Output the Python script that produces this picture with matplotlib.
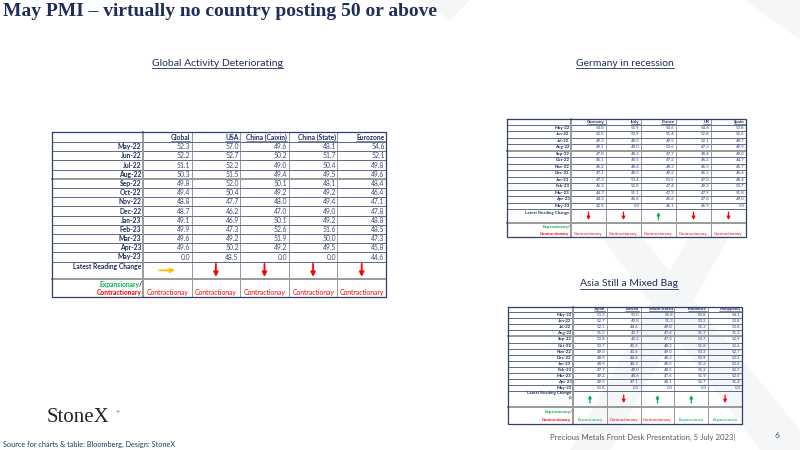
import matplotlib.pyplot as plt
from matplotlib.patches import Polygon

# ---------------------------------------------------
# Data
# ---------------------------------------------------

months = ["May-22", "Jun-22", "Jul-22", "Aug-22", "Sep-22", "Oct-22", "Nov-22",
          "Dec-22", "Jan-23", "Feb-23", "Mar-23", "Apr-23", "May-23"]

global_cols = ["Global", "USA", "China (Caixin)", "China (State)", "Eurozone"]
pmi_global = [52.3, 52.2, 51.1, 50.3, 49.8, 49.4, 48.8, 48.7, 49.1, 49.9, 49.6, 49.6, 0.0]
pmi_usa = [57.0, 52.7, 52.2, 51.5, 52.0, 50.4, 47.7, 46.2, 46.9, 47.3, 49.2, 50.2, 48.5]
pmi_caixin = [49.6, 50.2, 49.0, 49.4, 50.1, 49.2, 48.0, 47.0, 50.1, 52.6, 51.9, 49.2, 0.0]
pmi_china_state = [48.1, 51.7, 50.4, 49.5, 48.1, 49.2, 49.4, 49.0, 49.2, 51.6, 50.0, 49.5, 0.0]
pmi_eurozone = [54.6, 52.1, 49.8, 49.6, 48.4, 46.4, 47.1, 47.8, 48.8, 48.5, 47.3, 45.8, 44.6]
global_arrows = ["right", "down", "down", "down", "down"]
global_status = ["Contractionay", "Contractionay", "Contractionay", "Contractionay", "Contractionary"]

europe_cols = ["Germany", "Italy", "France", "UK", "Spain"]
pmi_germany = [54.8, 52.0, 49.3, 49.1, 47.8, 45.1, 46.2, 47.1, 47.3, 46.3, 44.7, 44.5, 42.9]
pmi_italy = [51.9, 50.9, 48.5, 48.0, 48.3, 46.5, 48.4, 48.5, 50.4, 52.0, 51.1, 46.8, 0.0]
pmi_france = [54.6, 51.4, 49.5, 50.6, 47.7, 47.2, 48.3, 49.2, 50.5, 47.4, 47.3, 45.6, 46.1]
pmi_uk = [54.6, 52.8, 52.1, 47.3, 48.4, 46.2, 46.5, 45.3, 47.0, 49.3, 47.9, 47.8, 46.9]
pmi_spain = [53.8, 52.6, 48.7, 49.9, 49.0, 44.7, 45.7, 46.4, 48.4, 50.7, 51.8, 49.0, 0.0]
europe_arrows = ["down", "down", "up", "down", "down"]
europe_status = ["Contractionary"] * 5

asia_cols = ["Japan", "Taiwan", "South Korea", "Indonesia", "Philippines"]
pmi_japan = [53.3, 52.7, 52.1, 51.5, 50.8, 50.7, 49.0, 48.9, 48.9, 47.7, 49.2, 49.5, 50.8]
pmi_taiwan = [50.0, 49.8, 44.6, 42.7, 42.2, 41.5, 41.6, 44.6, 44.3, 49.0, 48.6, 47.1, 0.0]
pmi_korea = [51.8, 51.3, 49.8, 47.6, 47.3, 48.2, 49.0, 48.2, 48.5, 48.5, 47.6, 48.1, 0.0]
pmi_indonesia = [50.8, 50.2, 51.3, 51.7, 53.7, 51.8, 50.3, 50.9, 51.3, 51.2, 51.9, 52.7, 0.0]
pmi_philippines = [54.1, 53.8, 50.8, 51.2, 52.9, 52.6, 52.7, 53.1, 53.5, 52.7, 52.5, 51.4, 0.0]
asia_arrows = ["up", "down", "up", "up", "down"]
asia_status = ["Expansionary", "Contractionary", "Contractionary", "Expansionary", "Expansionary"]

# ---------------------------------------------------
# Style
# ---------------------------------------------------

NAVY = "#1f2d5c"
NUM = "#3a4a7c"
RED = "#ff0000"
GREEN = "#00b050"
YELLOW = "#ffc000"
GRID_GREY = "#9a9a9a"
FONT = "Lato"

arrow_color = {"up": GREEN, "down": RED, "right": YELLOW}
status_color = {"Expansionary": GREEN}

fig = plt.figure(figsize=(8, 4.5), dpi=100)
ax = fig.add_axes([0, 0, 1, 1])
ax.set_xlim(0, 800)
ax.set_ylim(450, 0)
ax.axis("off")

# faint StoneX "X" watermark
for pts in [
    [(705, 0), (800, 0), (800, 40), (745, 0)],
    [(600, 235), (640, 235), (800, 430), (800, 450), (760, 450)],
    [(690, 235), (730, 235), (610, 450), (570, 450)],
    [(420, 0), (470, 0), (450, 20)],
]:
    ax.add_patch(Polygon(pts, closed=True, color="#f5f6f8", zorder=0, lw=0))

underline_items = []


def draw_table(left, label_right, col_w, top, header_h, row_h, change_h, status_h,
               cols, series, arrows, status, fs, arrow_len, arrow_lw, change_label):
    n_rows = len(months)
    right = label_right + col_w * len(cols)
    data_top = top + header_h
    data_bottom = data_top + row_h * n_rows
    change_bottom = data_bottom + change_h
    bottom = change_bottom + status_h

    # header
    for i, c in enumerate(cols):
        x = label_right + col_w * (i + 1) - 1.5
        t = ax.text(x, top + header_h / 2, c, ha="right", va="center", fontsize=fs,
                    fontweight="bold", color=NAVY, family=FONT)
        underline_items.append((t, NAVY, 0.4, 0.2))

    # rows
    for r, m in enumerate(months):
        y = data_top + row_h * (r + 0.5)
        ax.text(label_right - 1.5, y, m, ha="right", va="center", fontsize=fs,
                fontweight="bold", color=NAVY, family=FONT)
        for i, vals in enumerate(series):
            x = label_right + col_w * (i + 1) - 1.5
            ax.text(x, y, f"{vals[r]:.1f}", ha="right", va="center", fontsize=fs,
                    color=NUM, family=FONT)

    # latest reading change
    ax.text(label_right - 1.5, data_bottom + change_h * 0.28, change_label, ha="right",
            va="center", fontsize=fs, fontweight="bold", color=NAVY, family=FONT,
            linespacing=1.3)
    cy = data_bottom + change_h * 0.5
    for i, a in enumerate(arrows):
        cx = label_right + col_w * (i + 0.5)
        if a == "right":
            start, end = (cx - arrow_len * 0.6, cy), (cx + arrow_len * 0.6, cy)
        elif a == "down":
            start, end = (cx, cy - arrow_len / 2), (cx, cy + arrow_len / 2)
        else:
            start, end = (cx, cy + arrow_len / 2), (cx, cy - arrow_len / 2)
        ax.annotate("", xy=end, xytext=start,
                    arrowprops=dict(arrowstyle="-|>", color=arrow_color[a], lw=arrow_lw,
                                    mutation_scale=arrow_lw * 5, shrinkA=0, shrinkB=0))

    # expansionary / contractionary
    y1 = change_bottom + status_h * 0.3
    y2 = change_bottom + status_h * 0.75
    ax.text(label_right - 1.5, y1, "/", ha="right", va="center", fontsize=fs,
            fontweight="bold", color=NAVY, family=FONT)
    ax.text(label_right - 1.5 - fs * 0.45, y1, "Expansionary", ha="right", va="center",
            fontsize=fs, fontweight="bold", color=GREEN, family=FONT)
    ax.text(label_right - 1.5, y2, "Contractionary", ha="right", va="center", fontsize=fs,
            fontweight="bold", color=RED, family=FONT)
    for i, s in enumerate(status):
        cx = label_right + col_w * (i + 0.5)
        ax.text(cx, y2, s, ha="center", va="center", fontsize=fs,
                color=status_color.get(s, RED), family=FONT)

    # grid
    for r in range(n_rows + 1):
        y = data_top + row_h * r
        ax.plot([left, right], [y, y], color=NAVY, lw=0.5, zorder=1)
    for y in [data_top + row_h * 4, change_bottom]:
        ax.plot([left, right], [y, y], color=GRID_GREY, lw=1.4, zorder=2)
    ax.plot([label_right, label_right], [top, bottom], color=GRID_GREY, lw=1.4, zorder=1)
    for i in range(1, len(cols)):
        x = label_right + col_w * i
        ax.plot([x, x], [top, bottom], color="#6f6f6f", lw=0.5, zorder=1)
    ax.plot([left, right, right, left, left], [top, top, bottom, bottom, top],
            color="#2f3f6f", lw=0.9, zorder=3)


draw_table(52, 143, 48.6, 132, 10, 9.2, 17.5, 18, global_cols,
           [pmi_global, pmi_usa, pmi_caixin, pmi_china_state, pmi_eurozone],
           global_arrows, global_status, 4.9, 13, 1.3, "Latest Reading Change")

draw_table(507, 571, 35, 119, 5.5, 6.5, 14, 14, europe_cols,
           [pmi_germany, pmi_italy, pmi_france, pmi_uk, pmi_spain],
           europe_arrows, europe_status, 3.2, 8, 0.9, "Latest Reading Change")

draw_table(508, 573, 33.8, 306.5, 5.5, 6.1, 15.5, 17, asia_cols,
           [pmi_japan, pmi_taiwan, pmi_korea, pmi_indonesia, pmi_philippines],
           asia_arrows, asia_status, 3.2, 8, 0.9, "Latest Reading Change\n0")

# ---------------------------------------------------
# Titles and footer
# ---------------------------------------------------

ax.text(3, 12, "May PMI \u2013 virtually no country posting 50 or above", ha="left",
        va="center", fontsize=14, fontweight="bold", color=NAVY, family="Liberation Serif")

for x, y, s in [(217, 63, "Global Activity Deteriorating"),
                (625, 63, "Germany in recession"),
                (629, 284, "Asia Still a Mixed Bag")]:
    t = ax.text(x, y, s, ha="center", va="center", fontsize=7.5, color=NAVY, family=FONT)
    underline_items.append((t, NAVY, 0.6, 0.3))

ax.text(47, 418, "StoneX", ha="left", va="center", fontsize=15, color="#222222",
        family="Liberation Serif")
ax.text(115, 412, "\u00ae", ha="left", va="center", fontsize=3, color="#222222")
ax.text(3, 444, "Source for charts & table: Bloomberg, Design: StoneX", ha="left",
        va="center", fontsize=5.3, color="#1f3864", family=FONT)
ax.text(550, 437, "Precious Metals Front Desk Presentation, 5 July 2023|", ha="left",
        va="center", fontsize=5.6, color="#595959", family=FONT)
ax.text(777, 436, "6", ha="center", va="center", fontsize=6, color="#44546a", family=FONT)

# underlines
fig.canvas.draw()
renderer = fig.canvas.get_renderer()
inv = ax.transData.inverted()
for t, color, lw, off in underline_items:
    bb = t.get_window_extent(renderer)
    (x0, y0), (x1, y1) = inv.transform([[bb.x0, bb.y0], [bb.x1, bb.y1]])
    y = max(y0, y1) + off
    ax.plot([x0, x1], [y, y], color=color, lw=lw, zorder=3)

fig.savefig("out.png", dpi=100)
